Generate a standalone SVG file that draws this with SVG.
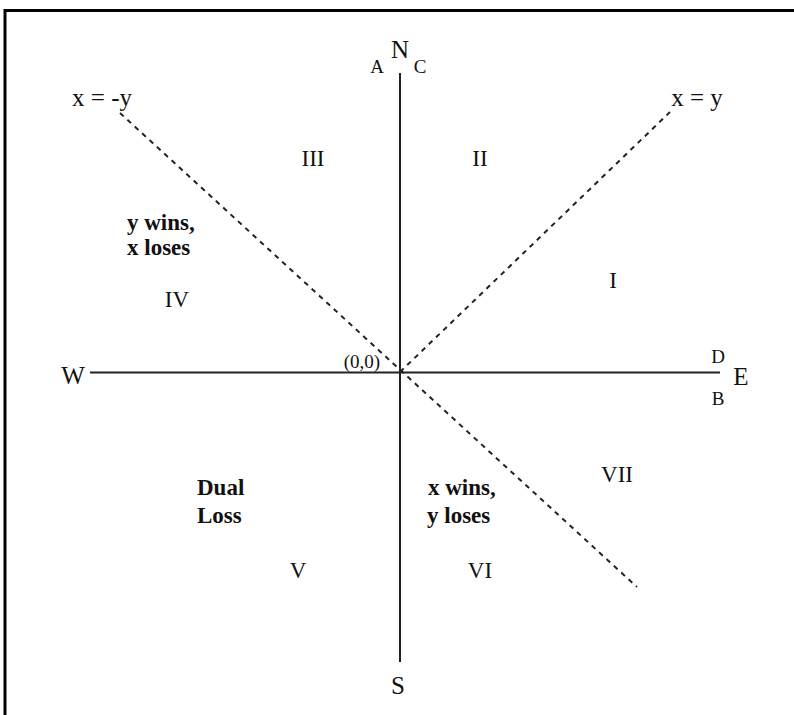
<svg xmlns="http://www.w3.org/2000/svg" width="794" height="715" viewBox="0 0 794 715">
<style>
  .t { font-family: "Liberation Serif", "Times New Roman", serif; fill: #111; text-anchor: middle; }
  .big { font-size: 25px; }
  .small { font-size: 19px; }
  .rn { font-size: 23px; }
  .b { font-size: 23px; font-weight: bold; text-anchor: start; }
  .axis { stroke: #222; stroke-width: 2; fill: none; }
  .dash { stroke: #222; stroke-width: 2; stroke-dasharray: 5 5; fill: none; }
</style>
<rect width="794" height="715" fill="#fff"/>
<path d="M5,715 V10.5 H794" stroke="#000" stroke-width="3" fill="none"/>
<g id="connectors">
  <line class="axis" x1="400" y1="73" x2="400" y2="662"/>
  <line class="axis" x1="90" y1="372.5" x2="720" y2="372.5"/>
  <line class="dash" x1="120" y1="113" x2="637" y2="587"/>
  <line class="dash" x1="400" y1="372" x2="670" y2="112"/>
</g>
<g id="N"><text class="t big" x="400" y="58">N</text></g>
<g id="A"><text class="t small" x="377" y="73">A</text></g>
<g id="C"><text class="t small" x="420" y="73">C</text></g>
<g id="S"><text class="t big" x="398" y="694">S</text></g>
<g id="W"><text class="t big" x="73" y="384">W</text></g>
<g id="E"><text class="t big" x="741" y="385">E</text></g>
<g id="D"><text class="t small" x="718" y="363">D</text></g>
<g id="B"><text class="t small" x="718" y="405">B</text></g>
<g id="origin"><text class="t small" x="362" y="368">(0,0)</text></g>
<g id="line-neg"><text class="t big" x="102" y="106">x = -y</text></g>
<g id="line-pos"><text class="t big" x="697" y="106">x = y</text></g>
<g id="I"><text class="t rn" x="613" y="288">I</text></g>
<g id="II"><text class="t rn" x="480" y="166">II</text></g>
<g id="III"><text class="t rn" x="313" y="166">III</text></g>
<g id="IV"><text class="t rn" x="177" y="307">IV</text></g>
<g id="V"><text class="t rn" x="298" y="578">V</text></g>
<g id="VI"><text class="t rn" x="480" y="578">VI</text></g>
<g id="VII"><text class="t rn" x="617" y="482">VII</text></g>
<g id="y-wins"><text class="t b" x="127" y="230">y wins,</text><text class="t b" x="127" y="255">x loses</text></g>
<g id="dual-loss"><text class="t b" x="197" y="495">Dual</text><text class="t b" x="197" y="523">Loss</text></g>
<g id="x-wins"><text class="t b" x="428" y="495">x wins,</text><text class="t b" x="427" y="523">y loses</text></g>
</svg>
